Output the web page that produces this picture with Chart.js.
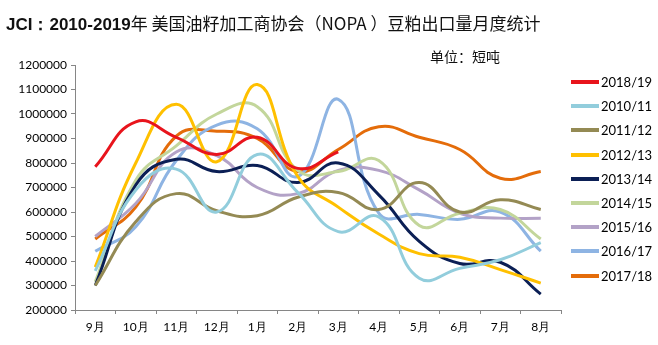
<!DOCTYPE html>
<html>
<head>
<meta charset="utf-8">
<script src="https://cdn.jsdelivr.net/npm/chart.js@4"></script>
<style>
  body { margin: 0; background: #fff; }
  #wrap { position: relative; width: 658px; height: 345px; font-family: "Noto Sans CJK SC", sans-serif; }
  #title { position: absolute; left: 6px; top: 10px; font-size: 17px; color: #111; white-space: nowrap; }
  #title b { font-family: "Liberation Sans", sans-serif; }
  #unit { position: absolute; left: 430px; top: 46px; font-size: 14px; color: #111; }
  #legend { position: absolute; left: 571px; top: 70px; font-family: Lato, sans-serif; font-size: 13px; }
  #legend div { height: 24.2px; display: flex; align-items: center; }
  #legend span.ln { display: inline-block; width: 28px; height: 4px; margin-right: 2px; }
  canvas { position: absolute; left: 0; top: 0; }
</style>
</head>
<body>
<div id="wrap">
  <canvas id="myChart" width="658" height="345"></canvas>
  <div id="title"><b>JCI：2010-2019</b>年 美国油籽加工商协会（NOPA ）豆粕出口量月度统计</div>
  <div id="unit">单位：短吨</div>
  <div id="legend"></div>
</div>
<script>
const months = ["9月", "10月", "11月", "12月", "1月", "2月", "3月", "4月", "5月", "6月", "7月", "8月"];
const seasons = ["2018/19", "2010/11", "2011/12", "2012/13", "2013/14", "2014/15", "2015/16", "2016/17", "2017/18"];
const colors = ["#e8141c", "#92cddc", "#948a54", "#ffc000", "#0b1f55", "#c3d69b", "#b3a2c7", "#8eb4e3", "#e46c0a"];

const s1819 = [785000, 968000, 905000, 835000, 905000, 778000, 845000, null, null, null, null, null];
const s1011 = [360000, 690000, 775000, 600000, 835000, 680000, 520000, 580000, 330000, 370000, 405000, 475000];
const s1112 = [300000, 560000, 675000, 605000, 585000, 660000, 680000, 610000, 720000, 600000, 650000, 610000];
const s1213 = [375000, 800000, 1040000, 805000, 1120000, 745000, 620000, 510000, 430000, 415000, 365000, 310000];
const s1314 = [300000, 710000, 815000, 765000, 790000, 720000, 800000, 670000, 480000, 390000, 395000, 265000];
const s1415 = [315000, 730000, 870000, 1000000, 1030000, 770000, 765000, 810000, 545000, 595000, 610000, 490000];
const s1516 = [500000, 635000, 845000, 830000, 700000, 675000, 770000, 770000, 690000, 595000, 575000, 575000];
const s1617 = [440000, 540000, 810000, 955000, 940000, 745000, 1060000, 595000, 590000, 570000, 600000, 440000];
const s1718 = [490000, 620000, 910000, 930000, 900000, 765000, 855000, 948000, 905000, 855000, 738000, 765000];
const allSeries = [s1819, s1011, s1112, s1213, s1314, s1415, s1516, s1617, s1718];

const yMin = 200000, yMax = 1200000, yStep = 100000;

let legend = document.getElementById("legend");
seasons.forEach((s, i) => {
  legend.innerHTML += `<div><span class="ln" style="background:${colors[i]}"></span>${s}</div>`;
});

new Chart("myChart", {
  type: "line",
  data: {
    labels: months,
    datasets: seasons.map((s, i) => ({
      label: s,
      data: allSeries[i],
      borderColor: colors[i],
      backgroundColor: colors[i],
      borderWidth: 3,
      pointRadius: 0,
      tension: 0.45,
      fill: false,
    })),
  },
  options: {
    responsive: false,
    animation: false,
    layout: { padding: { left: 5, right: 97, top: 65, bottom: 0 } },
    plugins: { legend: { display: false }, tooltip: { enabled: false } },
    scales: {
      x: {
        offset: true,
        grid: { display: true, drawOnChartArea: false, offset: true, color: "#868686", tickLength: 4 },
        border: { color: "#868686" },
        ticks: { color: "#000", font: { family: "Lato", size: 12 }, padding: 6 },
        afterFit: (s) => { s.height = 35; },
      },
      y: {
        min: yMin,
        max: yMax,
        grid: { display: true, drawOnChartArea: false, color: "#868686", tickLength: 4 },
        border: { color: "#868686" },
        ticks: {
          stepSize: yStep,
          color: "#000",
          font: { family: "Lato", size: 12 },
          padding: 4,
          callback: (v) => String(v),
        },
        afterFit: (s) => { s.width = 70; },
      },
    },
  },
});
</script>
</body>
</html>
